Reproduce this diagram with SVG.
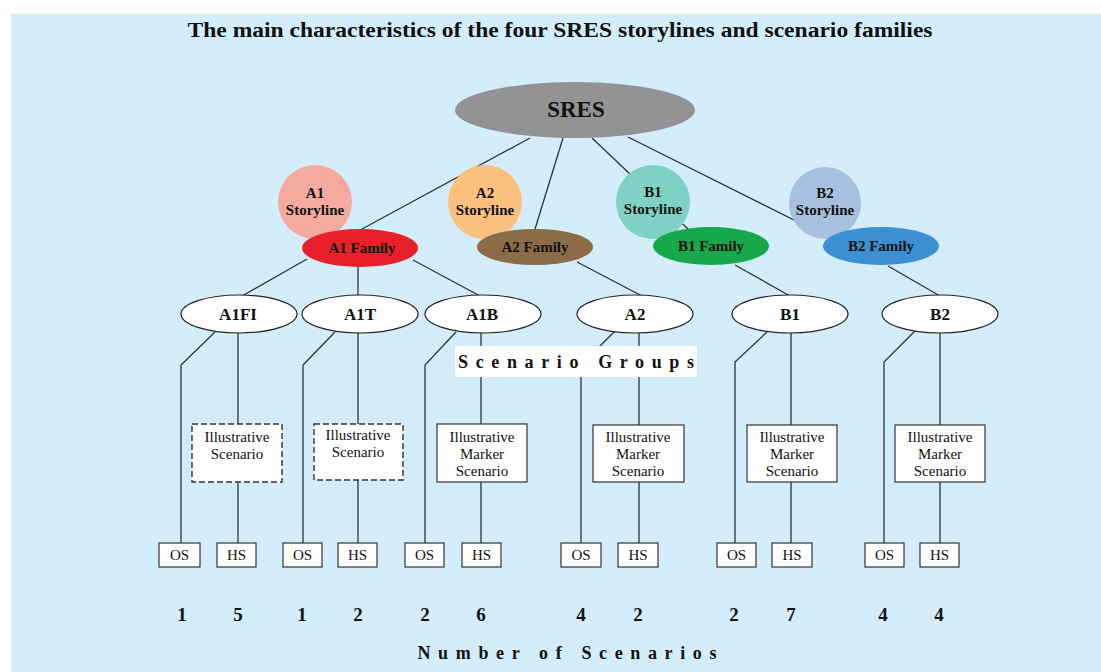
<svg xmlns="http://www.w3.org/2000/svg" width="1101" height="672" viewBox="0 0 1101 672">
<style>
.t{font-family:"Liberation Serif","Times New Roman",serif;fill:#111;text-anchor:middle}
.b{font-weight:bold}
.ln{stroke:#2a3440;stroke-width:1.3;fill:none}
.grp{fill:#fff;stroke:#222;stroke-width:1.2}
.box{fill:#fff;stroke:#333;stroke-width:1.2}
.dash{fill:#fff;stroke:#333;stroke-width:1.4;stroke-dasharray:6 3}
.sm{font-size:15px}
.os{font-size:15px}
.st{font-size:15px;font-weight:bold}
.g{font-size:17px;font-weight:bold}
.n{font-size:19px;font-weight:bold}
</style>
<rect x="0" y="0" width="1101" height="672" fill="#ffffff"/>
<rect x="11" y="14" width="1090" height="658" fill="#d3eefa"/>
<text class="t b" x="560" y="37" font-size="20" textLength="745" lengthAdjust="spacingAndGlyphs">The main characteristics of the four SRES storylines and scenario families</text>

<g id="connectors" class="ln">
<line x1="530" y1="138" x2="362" y2="229"/>
<line x1="563" y1="138" x2="535" y2="229"/>
<line x1="592" y1="138" x2="688" y2="229"/>
<line x1="628" y1="137" x2="818" y2="232"/>
<line x1="307" y1="259" x2="242" y2="296"/>
<line x1="358" y1="266" x2="358" y2="296"/>
<line x1="413" y1="260" x2="480" y2="296"/>
<line x1="577" y1="262" x2="642" y2="296"/>
<line x1="735" y1="265" x2="790" y2="296"/>
<line x1="888" y1="266" x2="940" y2="296"/>
<polyline points="215,332 181,365 181,543"/>
<polyline points="335,332 303,365 303,543"/>
<polyline points="456,332 425,365 425,543"/>
<polyline points="615,331 581,365 581,543"/>
<polyline points="767,332 735,362 735,543"/>
<polyline points="915,331 884,362 884,543"/>
<line x1="238" y1="333" x2="238" y2="543"/>
<line x1="358" y1="333" x2="358" y2="543"/>
<line x1="481" y1="333" x2="481" y2="543"/>
<line x1="639" y1="333" x2="639" y2="543"/>
<line x1="791" y1="333" x2="791" y2="543"/>
<line x1="940" y1="333" x2="940" y2="543"/>
</g>

<g id="sres"><ellipse cx="575" cy="110" rx="120" ry="28" fill="#939396"/><text class="t b" x="576" y="117" font-size="23">SRES</text></g>

<g id="a1-storyline"><circle cx="315" cy="202" r="37" fill="#f5aa9f"/><text class="t st" x="315" y="198">A1</text><text class="t st" x="315" y="215">Storyline</text></g>
<g id="a2-storyline"><circle cx="485" cy="202" r="37" fill="#fbc07d"/><text class="t st" x="485" y="198">A2</text><text class="t st" x="485" y="215">Storyline</text></g>
<g id="b1-storyline"><circle cx="653" cy="202" r="37" fill="#7fd1c3"/><text class="t st" x="653" y="197">B1</text><text class="t st" x="653" y="214">Storyline</text></g>
<g id="b2-storyline"><circle cx="825" cy="203" r="36" fill="#a8c0e0"/><text class="t st" x="825" y="198">B2</text><text class="t st" x="825" y="215">Storyline</text></g>

<g id="a1-family"><ellipse cx="360" cy="248" rx="58" ry="19" fill="#e8202a"/><text class="t st" x="362" y="253">A1 Family</text></g>
<g id="a2-family"><ellipse cx="535" cy="247" rx="58" ry="18" fill="#8c6b47"/><text class="t st" x="535" y="252">A2 Family</text></g>
<g id="b1-family"><ellipse cx="711" cy="246" rx="58" ry="19" fill="#17a84b"/><text class="t st" x="711" y="251">B1 Family</text></g>
<g id="b2-family"><ellipse cx="881" cy="246" rx="58" ry="19" fill="#3b8fd3"/><text class="t st" x="881" y="251">B2 Family</text></g>

<g id="a1fi"><ellipse class="grp" cx="239" cy="314" rx="58" ry="19"/><text class="t g" x="238" y="320">A1FI</text></g>
<g id="a1t"><ellipse class="grp" cx="360" cy="314" rx="58" ry="19"/><text class="t g" x="360" y="320">A1T</text></g>
<g id="a1b"><ellipse class="grp" cx="483" cy="314" rx="58" ry="19"/><text class="t g" x="482" y="320">A1B</text></g>
<g id="a2"><ellipse class="grp" cx="635" cy="314" rx="58" ry="19"/><text class="t g" x="635" y="320">A2</text></g>
<g id="b1"><ellipse class="grp" cx="790" cy="314" rx="58" ry="19"/><text class="t g" x="790" y="320">B1</text></g>
<g id="b2"><ellipse class="grp" cx="940" cy="314" rx="58" ry="19"/><text class="t g" x="940" y="320">B2</text></g>

<g id="scenario-groups-label"><rect x="455" y="346" width="242" height="31" fill="#ffffff"/><text class="t b" x="576" y="368" font-size="18" textLength="236" lengthAdjust="spacing">Scenario Groups</text></g>

<g id="a1fi-illustrative"><rect class="dash" x="192" y="424" width="90" height="58"/><text class="t sm" x="237" y="442">Illustrative</text><text class="t sm" x="237" y="459">Scenario</text></g>
<g id="a1t-illustrative"><rect class="dash" x="314" y="424" width="89" height="56"/><text class="t sm" x="358" y="440">Illustrative</text><text class="t sm" x="358" y="457">Scenario</text></g>
<g id="a1b-marker"><rect class="box" x="437" y="424" width="90" height="58"/><text class="t sm" x="482" y="442">Illustrative</text><text class="t sm" x="482" y="459">Marker</text><text class="t sm" x="482" y="476">Scenario</text></g>
<g id="a2-marker"><rect class="box" x="593" y="425" width="91" height="57"/><text class="t sm" x="638" y="442">Illustrative</text><text class="t sm" x="638" y="459">Marker</text><text class="t sm" x="638" y="476">Scenario</text></g>
<g id="b1-marker"><rect class="box" x="747" y="425" width="90" height="57"/><text class="t sm" x="792" y="442">Illustrative</text><text class="t sm" x="792" y="459">Marker</text><text class="t sm" x="792" y="476">Scenario</text></g>
<g id="b2-marker"><rect class="box" x="895" y="425" width="90" height="57"/><text class="t sm" x="940" y="442">Illustrative</text><text class="t sm" x="940" y="459">Marker</text><text class="t sm" x="940" y="476">Scenario</text></g>

<g id="os-hs">
<g id="a1fi-os"><rect class="box" x="159" y="543" width="41" height="24"/><text class="t os" x="179.5" y="560">OS</text></g>
<g id="a1fi-hs"><rect class="box" x="217" y="543" width="39" height="24"/><text class="t os" x="236.5" y="560">HS</text></g>
<g id="a1t-os"><rect class="box" x="283" y="543" width="39" height="24"/><text class="t os" x="302.5" y="560">OS</text></g>
<g id="a1t-hs"><rect class="box" x="338" y="543" width="39" height="24"/><text class="t os" x="357.5" y="560">HS</text></g>
<g id="a1b-os"><rect class="box" x="405" y="543" width="39" height="24"/><text class="t os" x="424.5" y="560">OS</text></g>
<g id="a1b-hs"><rect class="box" x="462" y="543" width="39" height="24"/><text class="t os" x="481.5" y="560">HS</text></g>
<g id="a2-os"><rect class="box" x="561" y="543" width="40" height="24"/><text class="t os" x="581" y="560">OS</text></g>
<g id="a2-hs"><rect class="box" x="618" y="543" width="40" height="24"/><text class="t os" x="638" y="560">HS</text></g>
<g id="b1-os"><rect class="box" x="717" y="543" width="39" height="24"/><text class="t os" x="736.5" y="560">OS</text></g>
<g id="b1-hs"><rect class="box" x="772" y="543" width="40" height="24"/><text class="t os" x="792" y="560">HS</text></g>
<g id="b2-os"><rect class="box" x="865" y="543" width="39" height="24"/><text class="t os" x="884.5" y="560">OS</text></g>
<g id="b2-hs"><rect class="box" x="920" y="543" width="39" height="24"/><text class="t os" x="939.5" y="560">HS</text></g>
</g>

<g id="numbers">
<text class="t n" x="182" y="621">1</text>
<text class="t n" x="238" y="621">5</text>
<text class="t n" x="302" y="621">1</text>
<text class="t n" x="358" y="621">2</text>
<text class="t n" x="425" y="621">2</text>
<text class="t n" x="481" y="621">6</text>
<text class="t n" x="581" y="621">4</text>
<text class="t n" x="638" y="621">2</text>
<text class="t n" x="734" y="621">2</text>
<text class="t n" x="791" y="621">7</text>
<text class="t n" x="883" y="621">4</text>
<text class="t n" x="939" y="621">4</text>
</g>
<text class="t b" x="567" y="659" font-size="18" textLength="299" lengthAdjust="spacing">Number of Scenarios</text>
</svg>
